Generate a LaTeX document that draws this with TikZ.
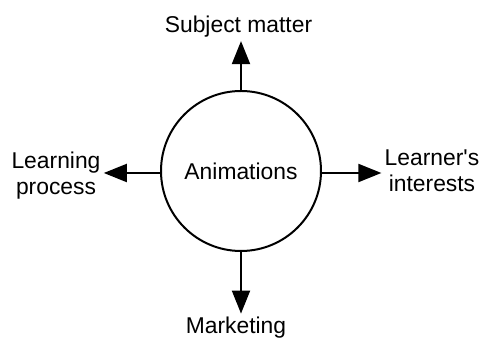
\documentclass[tikz,border=0pt]{standalone}
\usepackage{fontspec}
\setmainfont{Liberation Sans}
\usetikzlibrary{arrows.meta,positioning}

\tikzset{
    lbl/.style={font=\fontsize{13}{14.8}\selectfont, inner sep=0.06cm, align=center},
    arr/.style={line width=0.04cm, -{Triangle[length=0.46cm,width=0.36cm]}}
}

\begin{document}
\begin{tikzpicture}
    \useasboundingbox (0,0) rectangle (9.64,6.76);

    % Centre circle
    \node[draw, circle, line width=0.04cm, minimum size=3.2cm, inner sep=0pt,
          font=\fontsize{13}{14.8}\selectfont] (ani) at (4.82,3.34) {Animations};

    % Labels
    \node[lbl, anchor=base] (subj) at (4.77,6.10) {Subject matter};
    \node[lbl] (learn) at (1.12,3.24) {Learning\\process};
    \node[lbl] (interest) at (8.64,3.34) {Learner\textquotesingle s\\interests};
    \node[lbl, anchor=base] (market) at (4.72,0.09) {Marketing};

    % Arrows
    \draw[arr] (ani.north) -- (ani.north |- subj.south);
    \draw[arr] ([yshift=-0.04cm]ani.west) -- ([yshift=-0.04cm]ani.west -| learn.east);
    \draw[arr] ([yshift=-0.04cm]ani.east) -- ([yshift=-0.04cm]ani.east -| interest.west);
    \draw[arr] (ani.south) -- (ani.south |- market.north);
\end{tikzpicture}
\end{document}
